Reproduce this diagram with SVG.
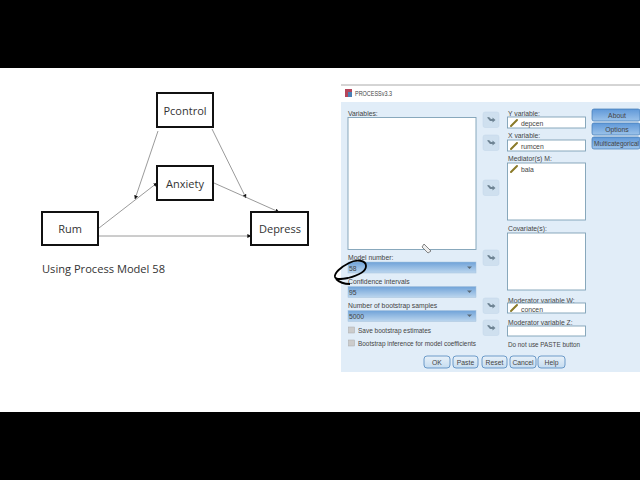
<svg xmlns="http://www.w3.org/2000/svg" width="640" height="480" viewBox="0 0 640 480">
<style>
text{font-family:"Open Sans","Liberation Sans",sans-serif;fill:#333}
.n rect{fill:#fff;stroke:#111;stroke-width:2}
.n text{font-size:11px;text-anchor:middle}
.c line{stroke:#808080;stroke-width:.8;marker-end:url(#a)}
.d text{font-family:"Liberation Sans",sans-serif;font-size:6.800px;fill:#444}
.box{fill:#fff;stroke:#7d9fb5;stroke-width:.9}
.drop{fill:url(#gd);stroke:#a5c2dc;stroke-width:.5}
.tool{fill:#cfe0ef;stroke:#c3d6e8;stroke-width:.5}
.btn{fill:url(#gb);stroke:#3f78b5;stroke-width:.7}
.low{fill:url(#gl);stroke:#4f86bd;stroke-width:.8}
.chk{fill:#ccc;stroke:#aaa;stroke-width:.5}
.pen{stroke:#8a7a28;stroke-width:2;stroke-linecap:round}
.ar{fill:#6f8494}
.tri{fill:#5a6a78}
</style>
<defs>
<linearGradient id="gd" x1="0" y1="0" x2="0" y2="1"><stop offset="0" stop-color="#6fa2d8"/><stop offset="1" stop-color="#bcd6ee"/></linearGradient>
<linearGradient id="gb" x1="0" y1="0" x2="0" y2="1"><stop offset="0" stop-color="#5f98d8"/><stop offset="1" stop-color="#9cc3ea"/></linearGradient>
<linearGradient id="gl" x1="0" y1="0" x2="0" y2="1"><stop offset="0" stop-color="#e8f1f9"/><stop offset="1" stop-color="#c5dcf0"/></linearGradient>
<marker id="a" viewBox="0 0 6 6" refX="5.500" refY="3" markerWidth="4" markerHeight="4" markerUnits="userSpaceOnUse" orient="auto"><path d="M0 0L6 3L0 6Z" fill="#111"/></marker>
<symbol id="pen" overflow="visible"><line class="pen" x1="0" y1="6" x2="6" y2="0"/></symbol>
<g id="arrow"><rect class="tool" x="0" y="0" width="16" height="15.500" rx="2"/><path class="ar" d="M4 5.500L6 5L8 7H9.500V5.500L12.500 8L9.500 10.500V9H7Z"/></g>
<path id="tr" class="tri" d="M0 0H5L2.500 2.500Z"/>
</defs>
<rect width="640" height="480" fill="#fff"/>
<rect width="640" height="68" fill="#000"/>
<rect y="412" width="640" height="68" fill="#000"/>

<g id="connectors" class="c">
<line x1="99" y1="228" x2="157" y2="183"/>
<line x1="158" y1="131" x2="135" y2="199"/>
<line x1="212" y1="129" x2="246" y2="198"/>
<line x1="214" y1="183" x2="279" y2="212"/>
<line x1="99" y1="236" x2="251" y2="236"/>
</g>
<g id="pcontrol" class="n"><rect x="157" y="93" width="56" height="34"/><text x="185" y="114.500">Pcontrol</text></g>
<g id="anxiety" class="n"><rect x="157" y="166" width="56" height="34"/><text x="185" y="187.500">Anxiety</text></g>
<g id="rum" class="n"><rect x="42" y="212" width="56" height="33"/><text x="70" y="232.500">Rum</text></g>
<g id="depress" class="n"><rect x="251" y="212" width="57" height="33"/><text x="280" y="232.500">Depress</text></g>
<text x="42" y="273" font-size="11" textLength="123" lengthAdjust="spacingAndGlyphs">Using Process Model 58</text>

<g id="dialog" class="d">
<rect x="341" y="85" width="299" height="287" fill="#fff"/>
<line x1="341" y1="85" x2="640" y2="85" stroke="#aaa"/>
<rect x="341" y="102" width="299" height="270" fill="#e1edf8"/>
<rect x="345" y="89" width="7" height="8" fill="#b5455a"/>
<rect x="348" y="92" width="4" height="5" fill="#4a7fb5"/>
<text x="355" y="96" textLength="37" lengthAdjust="spacingAndGlyphs">PROCESSv3.3</text>
<text x="348" y="115.500">Variables:</text>
<rect class="box" x="348" y="117.500" width="128" height="132"/>
<use href="#arrow" x="483" y="112"/>
<use href="#arrow" x="483" y="135"/>
<use href="#arrow" x="483" y="180"/>
<use href="#arrow" x="483" y="250"/>
<use href="#arrow" x="483" y="298"/>
<use href="#arrow" x="483" y="320"/>

<text x="508" y="115.500">Y variable:</text>
<rect class="box" x="507.500" y="117" width="78" height="11"/>
<use href="#pen" x="511" y="120"/>
<text x="521" y="126">depcen</text>
<text x="508" y="138">X variable:</text>
<rect class="box" x="507.500" y="140" width="78" height="11"/>
<use href="#pen" x="511" y="143"/>
<text x="521" y="149">rumcen</text>
<text x="508" y="161">Mediator(s) M:</text>
<rect class="box" x="507.500" y="163" width="78" height="57"/>
<use href="#pen" x="511" y="166"/>
<text x="521" y="172">bala</text>
<text x="508" y="230.500">Covariate(s):</text>
<rect class="box" x="507.500" y="233" width="78" height="57"/>
<text x="508" y="302.500">Moderator variable W:</text>
<rect class="box" x="507.500" y="303" width="78" height="10"/>
<use href="#pen" x="511" y="305"/>
<text x="521" y="311.500">concen</text>
<text x="508" y="324.500">Moderator variable Z:</text>
<rect class="box" x="507.500" y="326" width="78" height="10"/>
<text x="508" y="346.500" textLength="72" lengthAdjust="spacingAndGlyphs">Do not use PASTE button</text>

<rect class="btn" x="592" y="109" width="48" height="12" rx="2"/>
<text x="617" y="118" text-anchor="middle">About</text>
<rect class="btn" x="592" y="123" width="48" height="12" rx="2"/>
<text x="617" y="132" text-anchor="middle">Options</text>
<rect class="btn" x="592" y="137" width="48" height="12" rx="2"/>
<text x="594" y="145.500" textLength="45" lengthAdjust="spacingAndGlyphs">Multicategorical</text>

<text x="348" y="259.500">Model number:</text>
<rect class="drop" x="348" y="262" width="128" height="11"/>
<text x="349" y="271">58</text>
<use href="#tr" x="467" y="266.500"/>
<text x="348" y="284">Confidence intervals</text>
<rect class="drop" x="348" y="286.500" width="128" height="11"/>
<text x="349" y="295">95</text>
<use href="#tr" x="467" y="290.500"/>
<text x="348" y="308">Number of bootstrap samples</text>
<rect class="drop" x="348" y="310.500" width="128" height="11"/>
<text x="349" y="319">5000</text>
<use href="#tr" x="467" y="314.500"/>
<rect class="chk" x="348.500" y="327" width="6" height="6"/>
<text x="358" y="332.500" textLength="73" lengthAdjust="spacingAndGlyphs">Save bootstrap estimates</text>
<rect class="chk" x="348.500" y="340" width="6" height="6"/>
<text x="358" y="346" textLength="118" lengthAdjust="spacingAndGlyphs">Bootstrap inference for model coefficients</text>

<rect class="low" x="424" y="356" width="26" height="12" rx="3"/>
<text x="437" y="364.500" text-anchor="middle">OK</text>
<rect class="low" x="453" y="356" width="25" height="12" rx="3"/>
<text x="465.500" y="364.500" text-anchor="middle">Paste</text>
<rect class="low" x="482" y="356" width="25" height="12" rx="3"/>
<text x="494.500" y="364.500" text-anchor="middle">Reset</text>
<rect class="low" x="510" y="356" width="26" height="12" rx="3"/>
<text x="523" y="364.500" text-anchor="middle">Cancel</text>
<rect class="low" x="538" y="356" width="27" height="12" rx="3"/>
<text x="551.500" y="364.500" text-anchor="middle">Help</text>
<path d="M424 244L431 251L428 253L422 247Z" fill="#eee" stroke="#555" stroke-width=".7"/>
<path d="M349 263C356 259 366 260 366 266C366 272 356 276 348 278C342 279 336 280 335 277C334 273 341 267 349 263ZM336 279C340 283 346 284 350 284" fill="none" stroke="#000" stroke-width="1.800"/>
</g>
</svg>
